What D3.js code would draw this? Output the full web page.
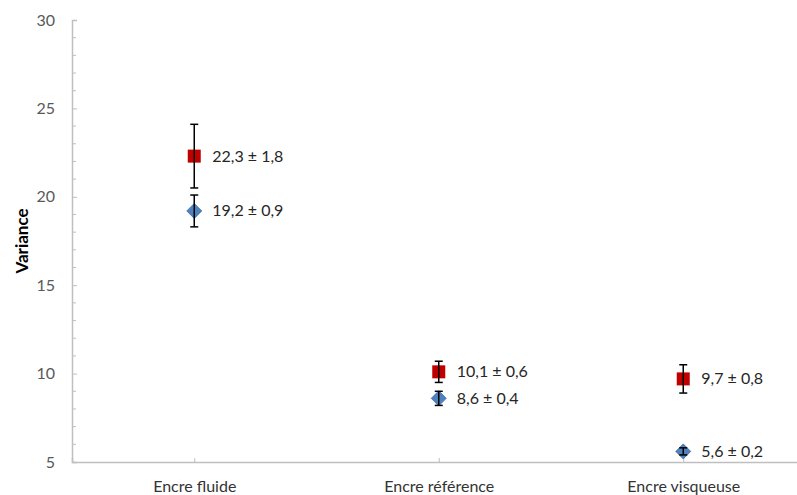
<!DOCTYPE html>
<html><head><meta charset="utf-8">
<script src="https://cdn.jsdelivr.net/npm/d3@7"></script>
<style>body{margin:0;background:#fff;}svg{display:block;font-family:Lato,'Open Sans',sans-serif;}</style>
</head><body>
<svg id="c" width="797" height="495"></svg>
<script>
const categories = ["Encre fluide", "Encre référence", "Encre visqueuse"];
const redValues = [22.3, 10.1, 9.7];
const redErrors = [1.8, 0.6, 0.8];
const blueValues = [19.2, 8.6, 5.6];
const blueErrors = [0.9, 0.4, 0.2];
const yTicks = [5, 10, 15, 20, 25, 30];
const yTitle = "Variance";

(function(){
const svg = d3.select("#c");
const mLeft = 72, mRight = 805.5, mTop = 20, mBottom = 462;
const x = d3.scalePoint().domain(categories).range([mLeft, mRight]).padding(0.5);
const y = d3.scaleLinear().domain([5, 30]).range([mBottom, mTop]);
const fmt = v => v.toFixed(1).replace(".", ",");

// minor ticks
const minor = d3.range(5, 31, 1).filter(v => v % 5 !== 0);
svg.append("g").selectAll("line").data(minor).join("line")
  .attr("x1", mLeft).attr("x2", mLeft + 4).attr("y1", d => y(d)).attr("y2", d => y(d))
  .attr("stroke", "#bfbfbf").attr("stroke-width", 1);

// y axis
const yAxis = d3.axisLeft(y).tickValues(yTicks).tickSize(-5).tickPadding(17).tickFormat(d3.format("d"));
const gy = svg.append("g").attr("transform", `translate(${mLeft},0)`).call(yAxis);
gy.select(".domain").attr("stroke", "#bfbfbf").attr("stroke-width", 1.5);
gy.selectAll(".tick line").attr("stroke", "#bfbfbf");
gy.selectAll(".tick text").attr("font-size", 16).attr("fill", "#595959").attr("font-family", "Lato,'Open Sans',sans-serif");

// x axis
const xAxis = d3.axisBottom(x).tickSize(-4).tickPadding(19);
const gx = svg.append("g").attr("transform", `translate(0,${mBottom})`).call(xAxis);
gx.select(".domain").attr("stroke", "#bfbfbf").attr("stroke-width", 1.5);
gx.selectAll(".tick line").attr("stroke", "#bfbfbf");
gx.selectAll(".tick text").attr("font-size", 16).attr("fill", "#333").attr("font-family", "Lato,'Open Sans',sans-serif");

// y title
svg.append("text").attr("transform", `translate(28,${(mTop+mBottom)/2}) rotate(-90)`)
  .attr("text-anchor", "middle").attr("font-size", 17).attr("font-weight", "bold").attr("fill", "#000")
  .text(yTitle);

function series(vals, errs, color, shape) {
  const g = svg.append("g");
  const data = categories.map((c, i) => ({c, v: vals[i], e: errs[i]}));
  if (shape === "square") {
    g.selectAll("rect").data(data).join("rect")
      .attr("x", d => x(d.c) - 6.5).attr("y", d => y(d.v) - 6.5)
      .attr("width", 13).attr("height", 13).attr("fill", color);
  } else {
    g.selectAll("path").data(data).join("path")
      .attr("d", d => `M${x(d.c)},${y(d.v)-7.5}L${x(d.c)+7.5},${y(d.v)}L${x(d.c)},${y(d.v)+7.5}L${x(d.c)-7.5},${y(d.v)}Z`)
      .attr("fill", color).attr("stroke", "#3d6a9e").attr("stroke-width", 0.8);
  }
  const eb = g.selectAll("g.eb").data(data).join("g").attr("class", "eb");
  eb.append("line").attr("x1", d => x(d.c)).attr("x2", d => x(d.c))
    .attr("y1", d => y(d.v - d.e)).attr("y2", d => y(d.v + d.e)).attr("stroke", "#000").attr("stroke-width", 1.5);
  [-1, 1].forEach(s => {
    eb.append("line").attr("x1", d => x(d.c) - 4).attr("x2", d => x(d.c) + 4)
      .attr("y1", d => y(d.v + s * d.e)).attr("y2", d => y(d.v + s * d.e)).attr("stroke", "#000").attr("stroke-width", 1.5);
  });
  g.selectAll("text").data(data).join("text")
    .attr("x", d => x(d.c) + 18).attr("y", d => y(d.v) + 5.5)
    .attr("font-size", 16).attr("fill", "#262626")
    .text(d => `${fmt(d.v)} ± ${fmt(d.e)}`);
}
series(blueValues, blueErrors, "#4f81bd", "diamond");
series(redValues, redErrors, "#c00000", "square");
})();
</script>
</body></html>
